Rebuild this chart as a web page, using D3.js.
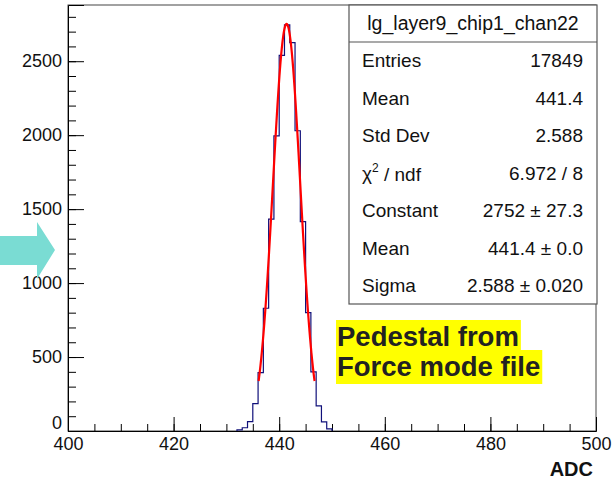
<!DOCTYPE html>
<html>
<head>
<meta charset="utf-8">
<script src="https://cdn.jsdelivr.net/npm/d3@7"></script>
<style>
body { margin: 0; background: #fff; }
text { font-family: "Liberation Sans", Arial, sans-serif; }
</style>
</head>
<body>
<script>
// histogram bins, 1 ADC wide (low edge + count)
var binLow = [432, 433, 434, 435, 436, 437, 438, 439, 440, 441, 442, 443, 444, 445, 446, 447, 448, 449];
var binCounts = [8, 22, 64, 185, 395, 830, 1432, 1995, 2540, 2745, 2625, 2030, 1415, 800, 400, 170, 62, 15];
var xTicks = [400, 420, 440, 460, 480, 500];
var yTicks = [0, 500, 1000, 1500, 2000, 2500];

// gaussian fit: constant, mean, sigma
var fitParams = [2752, 441.4, 2.588];
var fitRange = [436.1, 446.7];

// stats box
var statsTitle = "lg_layer9_chip1_chan22";
var statsNames = ["Entries", "Mean", "Std Dev", "chi2", "Constant", "Mean", "Sigma"];
var statsValues = ["17849", "441.4", "2.588", "6.972 / 8", "2752 \u00b1 27.3", "441.4 \u00b1 0.0", "2.588 \u00b1 0.020"];

var width = 615, height = 483;
var fLeft = 68, fRight = 596, fTop = 5, fBottom = 431;

var svg = d3.select("body").append("svg")
    .attr("width", width)
    .attr("height", height)

var x = d3.scaleLinear().domain([400, 500]).range([fLeft, fRight]);
var y = d3.scaleLinear().domain([0, 2880]).range([fBottom, fTop]);

// frame
svg.append("rect")
    .attr("x", fLeft).attr("y", fTop)
    .attr("width", fRight - fLeft).attr("height", fBottom - fTop)
    .attr("fill", "none").attr("stroke", "#444").attr("stroke-width", 1)

// minor ticks
svg.append("g")
    .attr("transform", "translate(0," + fBottom + ")")
    .call(d3.axisBottom(x).tickValues(d3.range(400, 501, 5)).tickSize(-7).tickFormat(""))
    .call(g => g.select(".domain").remove())
svg.append("g")
    .attr("transform", "translate(" + fLeft + ",0)")
    .call(d3.axisLeft(y).tickValues(d3.range(0, 2801, 100)).tickSize(-8).tickFormat(""))
    .call(g => g.select(".domain").remove())

// major ticks + labels
var xAxis = svg.append("g")
    .attr("transform", "translate(0," + fBottom + ")")
    .call(d3.axisBottom(x).tickValues(xTicks).tickSize(-14).tickFormat(d3.format("d")))
xAxis.select(".domain").attr("stroke", "#000")
xAxis.selectAll("text").attr("font-size", 18).attr("fill", "#111")
    .attr("dy", "0.71em").attr("y", 6)

var yAxis = svg.append("g")
    .attr("transform", "translate(" + fLeft + ",0)")
    .call(d3.axisLeft(y).tickValues(yTicks).tickSize(-16).tickFormat(d3.format("d")))
yAxis.select(".domain").attr("stroke", "#000")
yAxis.selectAll("text").attr("font-size", 18).attr("fill", "#111")
    .attr("x", -6).attr("dy", "0.32em")
yAxis.selectAll(".tick").filter(d => d === 0).select("text").attr("dy", "-0.12em")

// histogram outline
var pts = [[binLow[0], 0]];
binLow.forEach(function(lo, i) {
  pts.push([lo, binCounts[i]]);
  pts.push([lo + 1, binCounts[i]]);
});
pts.push([binLow[binLow.length - 1] + 1, 0]);

svg.append("path")
    .datum(pts)
    .attr("d", d3.line().x(d => x(d[0])).y(d => y(d[1])))
    .attr("fill", "none")
    .attr("stroke", "#10107a")
    .attr("stroke-width", 1.2)

// fit curve
var fitPts = d3.range(fitRange[0], fitRange[1] + 0.001, 0.05).map(function(v) {
  var z = (v - fitParams[1]) / fitParams[2];
  return [v, fitParams[0] * Math.exp(-0.5 * z * z)];
});
svg.append("path")
    .datum(fitPts)
    .attr("d", d3.line().x(d => x(d[0])).y(d => y(d[1])))
    .attr("fill", "none")
    .attr("stroke", "#ff0000")
    .attr("stroke-width", 2.2)

// stats box
var bx = 349, by = 5, bw = 248, bh = 299, titleH = 37;
var stats = svg.append("g")
stats.append("rect")
    .attr("x", bx).attr("y", by).attr("width", bw).attr("height", bh)
    .attr("fill", "#fff").attr("stroke", "#555").attr("stroke-width", 1.2)
stats.append("line")
    .attr("x1", bx).attr("x2", bx + bw)
    .attr("y1", by + titleH).attr("y2", by + titleH)
    .attr("stroke", "#555").attr("stroke-width", 1.2)
stats.append("text")
    .attr("x", bx + bw / 2).attr("y", by + titleH / 2)
    .attr("dy", "0.35em").attr("text-anchor", "middle")
    .attr("font-size", 19.5).attr("fill", "#111")
    .text(statsTitle)

var rowH = (bh - titleH) / statsNames.length;
statsNames.forEach(function(name, i) {
  var ry = by + titleH + rowH * (i + 0.5);
  var t = stats.append("text")
      .attr("x", bx + 13).attr("y", ry).attr("dy", "0.35em")
      .attr("font-size", 19).attr("fill", "#111")
  if (name === "chi2") {
    t.append("tspan").text("\u03c7")
    t.append("tspan").attr("font-size", 12).attr("dy", "-0.6em").text("2")
    t.append("tspan").attr("dy", "0.45em").text(" / ndf")
  } else {
    t.text(name)
  }
  stats.append("text")
      .attr("x", bx + bw - 14).attr("y", ry).attr("dy", "0.35em")
      .attr("text-anchor", "end")
      .attr("font-size", 19).attr("fill", "#111")
      .text(statsValues[i])
});

// axis title
svg.append("text")
    .attr("x", 593).attr("y", 476)
    .attr("text-anchor", "end")
    .attr("font-size", 20).attr("font-weight", "bold").attr("fill", "#111")
    .text("ADC")

// yellow note
var noteLines = ["Pedestal from", "Force mode file"];
var noteTops = [320, 350];
var noteHeights = [30, 34];
var note = svg.append("g")
noteLines.forEach(function(s, i) {
  var t = note.append("text")
      .attr("x", 337).attr("y", noteTops[i] + 26)
      .attr("font-size", 27.5).attr("font-weight", "bold").attr("fill", "#222")
      .text(s)
  var w = t.node().getComputedTextLength();
  note.insert("rect", "text")
      .attr("x", 336).attr("y", noteTops[i])
      .attr("width", w + 3).attr("height", noteHeights[i])
      .attr("fill", "#ffff00")
});

// arrow on the left
svg.append("path")
    .attr("d", "M0,236 L37,236 L37,222 L55,250 L37,279 L37,265 L0,265 Z")
    .attr("fill", "#7adcd3")
</script>
</body>
</html>
